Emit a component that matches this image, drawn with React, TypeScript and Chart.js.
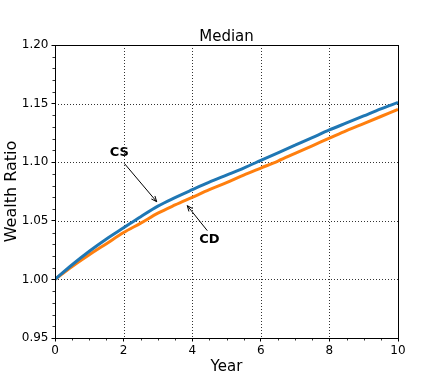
import React, { useEffect, useRef } from 'react';
import { Chart, registerables } from 'chart.js';

Chart.register(...registerables);

const YEARS = [0, 0.5, 1, 1.5, 2, 2.5, 3, 3.5, 4, 4.5, 5, 5.5, 6, 6.5, 7, 7.5, 8, 8.5, 9, 9.5, 10];
const CS = [1.0, 1.0125, 1.024, 1.0345, 1.044, 1.0535, 1.0625, 1.0698, 1.0765, 1.083, 1.089, 1.095, 1.1015, 1.108, 1.1145, 1.121, 1.1275, 1.1335, 1.1395, 1.1455, 1.151];
const CD = [1.0, 1.011, 1.021, 1.0305, 1.04, 1.048, 1.0565, 1.0635, 1.07, 1.0765, 1.0825, 1.089, 1.095, 1.101, 1.1075, 1.114, 1.1205, 1.127, 1.133, 1.139, 1.145];

const X_MIN = 0;
const X_MAX = 10;
const X_STEP = 2;
const X_MINOR = 0.5;
const Y_MIN = 0.95;
const Y_MAX = 1.2;
const Y_STEP = 0.05;
const Y_MINOR = 0.01;

const TITLE = 'Median';
const X_LABEL = 'Year';
const Y_LABEL = 'Wealth Ratio';

const ANNOTATIONS = [
  { label: 'CS', text: [1.875, 1.108], tail: [2.02, 1.099], tip: [2.965, 1.0663] },
  { label: 'CD', text: [4.5, 1.0342], tail: [4.44, 1.0416], tip: [3.857, 1.0629] },
];

const FONT = '"DejaVu Sans", Verdana, sans-serif';

const decor = {
  id: 'decor',
  beforeDatasetsDraw(chart: any) {
    const { ctx, chartArea: a, scales } = chart;
    const xs = scales.x;
    const ys = scales.y;
    ctx.save();
    ctx.strokeStyle = 'rgba(0,0,0,0.8)';
    ctx.lineWidth = 1;
    ctx.setLineDash([1, 2]);
    for (let v = X_MIN + X_STEP; v < X_MAX - 1e-9; v += X_STEP) {
      const px = Math.round(xs.getPixelForValue(v)) + 0.5;
      ctx.beginPath();
      ctx.moveTo(px, a.top);
      ctx.lineTo(px, a.bottom);
      ctx.stroke();
    }
    for (let i = 1; Y_MIN + i * Y_STEP < Y_MAX - 1e-9; i++) {
      const py = Math.round(ys.getPixelForValue(Y_MIN + i * Y_STEP)) + 0.5;
      ctx.beginPath();
      ctx.moveTo(a.left, py);
      ctx.lineTo(a.right, py);
      ctx.stroke();
    }
    ctx.restore();
  },
  afterDatasetsDraw(chart: any) {
    const { ctx, chartArea: a, scales } = chart;
    const xs = scales.x;
    const ys = scales.y;
    ctx.save();
    ctx.setLineDash([]);
    // spines
    ctx.strokeStyle = '#000';
    ctx.lineWidth = 1;
    ctx.strokeRect(Math.round(a.left) + 0.5, Math.round(a.top) + 0.5, Math.round(a.right - a.left), Math.round(a.bottom - a.top));
    // minor ticks
    ctx.lineWidth = 0.8;
    const nx = Math.round((X_MAX - X_MIN) / X_MINOR);
    for (let i = 0; i <= nx; i++) {
      const v = X_MIN + i * X_MINOR;
      if (Math.abs(v / X_STEP - Math.round(v / X_STEP)) < 1e-6) continue;
      const px = Math.round(xs.getPixelForValue(v)) + 0.5;
      ctx.beginPath();
      ctx.moveTo(px, a.bottom);
      ctx.lineTo(px, a.bottom + 2.5);
      ctx.stroke();
    }
    const ny = Math.round((Y_MAX - Y_MIN) / Y_MINOR);
    for (let i = 0; i <= ny; i++) {
      if (i % Math.round(Y_STEP / Y_MINOR) === 0) continue;
      const py = Math.round(ys.getPixelForValue(Y_MIN + i * Y_MINOR)) + 0.5;
      ctx.beginPath();
      ctx.moveTo(a.left, py);
      ctx.lineTo(a.left - 2.5, py);
      ctx.stroke();
    }
    // annotations
    ctx.fillStyle = '#000';
    ctx.strokeStyle = '#000';
    ctx.lineWidth = 1;
    for (const an of ANNOTATIONS) {
      const tx = xs.getPixelForValue(an.text[0]);
      const ty = ys.getPixelForValue(an.text[1]);
      ctx.font = `bold 13px ${FONT}`;
      ctx.textAlign = 'center';
      ctx.textBaseline = 'middle';
      ctx.fillText(an.label, tx, ty);
      const x0 = xs.getPixelForValue(an.tail[0]);
      const y0 = ys.getPixelForValue(an.tail[1]);
      const x1 = xs.getPixelForValue(an.tip[0]);
      const y1 = ys.getPixelForValue(an.tip[1]);
      ctx.beginPath();
      ctx.moveTo(x0, y0);
      ctx.lineTo(x1, y1);
      ctx.stroke();
      const ang = Math.atan2(y1 - y0, x1 - x0);
      const hl = 6;
      const ha = 0.4;
      ctx.beginPath();
      ctx.moveTo(x1 - hl * Math.cos(ang - ha), y1 - hl * Math.sin(ang - ha));
      ctx.lineTo(x1, y1);
      ctx.lineTo(x1 - hl * Math.cos(ang + ha), y1 - hl * Math.sin(ang + ha));
      ctx.stroke();
    }
    // title & axis labels
    const cx = (a.left + a.right) / 2;
    const cy = (a.top + a.bottom) / 2;
    ctx.textAlign = 'center';
    ctx.textBaseline = 'alphabetic';
    ctx.font = `15px ${FONT}`;
    ctx.fillText(TITLE, cx, a.top - 4.5);
    ctx.fillText(X_LABEL, cx, a.bottom + 33);
    ctx.save();
    ctx.translate(16, cy);
    ctx.rotate(-Math.PI / 2);
    ctx.font = `16px ${FONT}`;
    ctx.fillText(Y_LABEL, 0, 0);
    ctx.restore();
    ctx.restore();
  },
};

export default function App() {
  const ref = useRef<HTMLCanvasElement | null>(null);
  useEffect(() => {
    if (!ref.current) return;
    const chart = new Chart(ref.current, {
      type: 'line',
      data: {
        datasets: [
          {
            label: 'CS',
            data: YEARS.map((x, i) => ({ x, y: CS[i] })),
            borderColor: '#1f77b4',
            backgroundColor: '#1f77b4',
            borderWidth: 3,
            pointRadius: 0,
            cubicInterpolationMode: 'monotone',
          },
          {
            label: 'CD',
            data: YEARS.map((x, i) => ({ x, y: CD[i] })),
            borderColor: '#ff7f0e',
            backgroundColor: '#ff7f0e',
            borderWidth: 3,
            pointRadius: 0,
            cubicInterpolationMode: 'monotone',
          },
        ],
      },
      options: {
        animation: false,
        responsive: false,
        devicePixelRatio: 1,
        layout: { padding: { left: 0, top: 45, right: 45, bottom: 0 } },
        plugins: { legend: { display: false }, tooltip: { enabled: false }, title: { display: false } },
        scales: {
          x: {
            type: 'linear',
            min: X_MIN,
            max: X_MAX,
            afterFit: (s: any) => { s.height = 42; },
            ticks: {
              stepSize: X_STEP,
              color: '#000',
              padding: 2,
              maxRotation: 0,
              font: { family: FONT, size: 12 },
              callback: (v: any) => String(v),
            },
            grid: { drawOnChartArea: false, drawTicks: true, tickLength: 3.5, tickColor: '#000', tickWidth: 1 },
            border: { display: false },
          },
          y: {
            type: 'linear',
            min: Y_MIN,
            max: Y_MAX,
            afterFit: (s: any) => { s.width = 55; },
            ticks: {
              stepSize: Y_STEP,
              color: '#000',
              padding: 3,
              font: { family: FONT, size: 12 },
              callback: (v: any) => Number(v).toFixed(2),
            },
            grid: { drawOnChartArea: false, drawTicks: true, tickLength: 3.5, tickColor: '#000', tickWidth: 1 },
            border: { display: false },
          },
        },
      },
      plugins: [decor],
    });
    return () => chart.destroy();
  }, []);
  return (
    <div style={{ position: 'absolute', left: 0, top: 0, width: 443, height: 380, background: '#fff' }}>
      <canvas ref={ref} width={443} height={380} style={{ display: 'block' }} />
    </div>
  );
}
